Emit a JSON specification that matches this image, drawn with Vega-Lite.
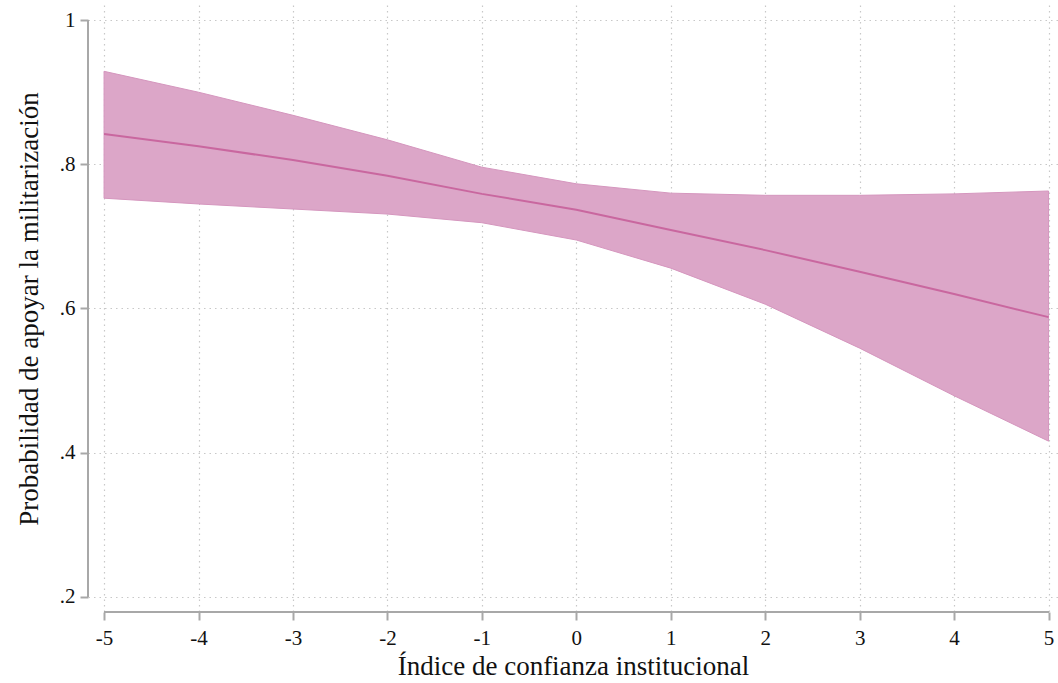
{
  "$schema": "https://vega.github.io/schema/vega-lite/v6.json",
  "width": 970,
  "height": 607,
  "autosize": {"type": "none"},
  "padding": {"left": 88, "top": 5, "right": 0, "bottom": 71},
  "background": "white",
  "config": {
    "view": {"stroke": null},
    "font": "Liberation Serif",
    "axis": {
      "labelFont": "Liberation Serif",
      "titleFont": "Liberation Serif",
      "labelColor": "#111",
      "titleColor": "#111",
      "titleFontWeight": "normal",
      "labelFontSize": 21,
      "titleFontSize": 27,
      "domain": false,
      "tickColor": "#a8a8a8",
      "tickWidth": 2,
      "tickSize": 8,
      "gridColor": "#c8c8c8",
      "gridDash": [1.5, 4],
      "gridWidth": 1.2
    }
  },
  "data": {
    "values": [
      {"x": -5, "lo": 0.753, "hi": 0.929, "m": 0.842},
      {"x": -4, "lo": 0.745, "hi": 0.900, "m": 0.825},
      {"x": -3, "lo": 0.738, "hi": 0.868, "m": 0.806},
      {"x": -2, "lo": 0.731, "hi": 0.834, "m": 0.784},
      {"x": -1, "lo": 0.719, "hi": 0.796, "m": 0.759},
      {"x": 0, "lo": 0.695, "hi": 0.773, "m": 0.737},
      {"x": 1, "lo": 0.656, "hi": 0.760, "m": 0.709},
      {"x": 2, "lo": 0.606, "hi": 0.757, "m": 0.681},
      {"x": 3, "lo": 0.545, "hi": 0.757, "m": 0.651},
      {"x": 4, "lo": 0.479, "hi": 0.759, "m": 0.620},
      {"x": 5, "lo": 0.416, "hi": 0.763, "m": 0.588}
    ]
  },
  "layer": [
    {
      "mark": {"type": "area", "color": "#dca6c8", "opacity": 1, "stroke": "#d596be", "strokeWidth": 1},
      "encoding": {
        "x": {
          "field": "x", "type": "quantitative",
          "scale": {"domain": [-5.17, 5.1], "nice": false, "zero": false},
          "axis": {
            "values": [-5, -4, -3, -2, -1, 0, 1, 2, 3, 4, 5],
            "labelExpr": "toString(datum.value)",
            "title": "Índice de confianza institucional",
            "labelPadding": 7,
            "titlePadding": 5
          }
        },
        "y": {
          "field": "lo", "type": "quantitative",
          "scale": {"domain": [0.179, 1.021], "nice": false, "zero": false},
          "axis": {
            "values": [0.2, 0.4, 0.6, 0.8, 1],
            "labelExpr": "replace(format(datum.value, '.1~f'), '0.', '.')",
            "title": "Probabilidad de apoyar la militarización",
            "labelPadding": 5,
            "titlePadding": 16
          }
        },
        "y2": {"field": "hi"}
      }
    },
    {
      "mark": {"type": "line", "color": "#c9679f", "strokeWidth": 2},
      "encoding": {
        "x": {"field": "x", "type": "quantitative"},
        "y": {"field": "m", "type": "quantitative"}
      }
    },
    {
      "mark": {"type": "rule", "color": "#a8a8a8", "strokeWidth": 2},
      "encoding": {
        "x": {"datum": -5},
        "x2": {"datum": 5},
        "y": {"datum": 0.179}
      }
    },
    {
      "mark": {"type": "rule", "color": "#a8a8a8", "strokeWidth": 2},
      "encoding": {
        "x": {"datum": -5.17},
        "y": {"datum": 0.2},
        "y2": {"datum": 1}
      }
    }
  ]
}
